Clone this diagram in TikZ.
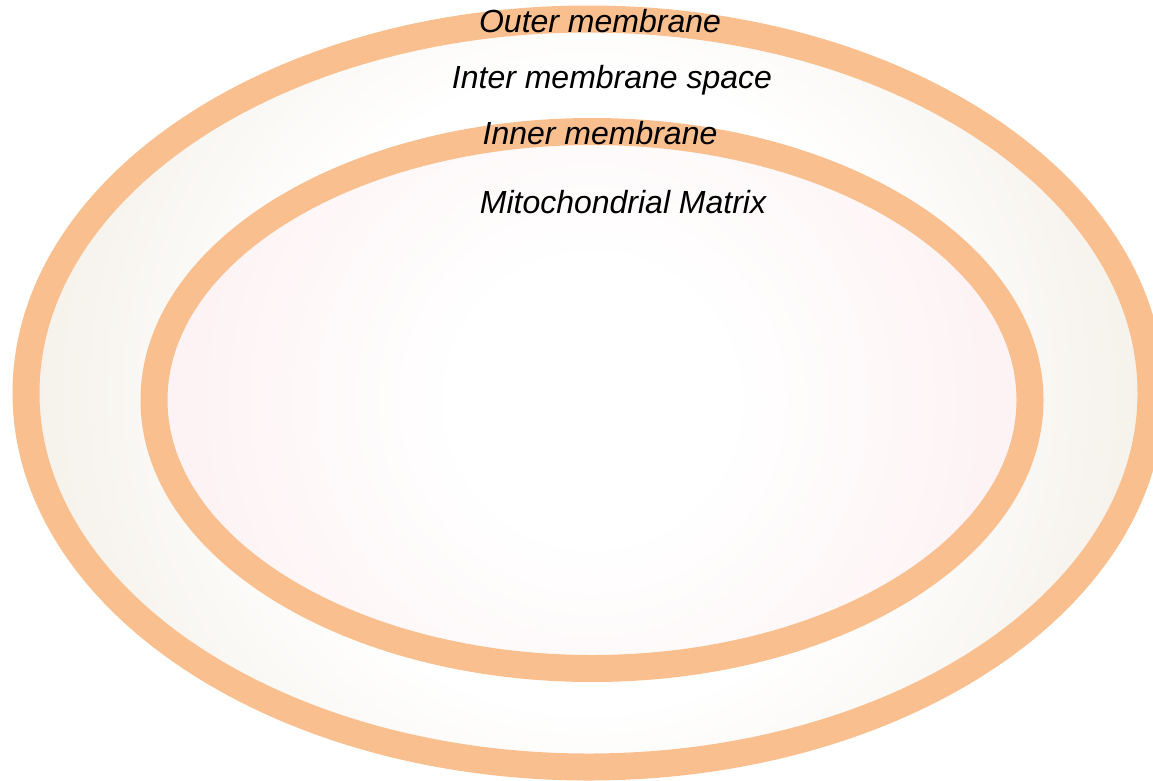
\documentclass[tikz,border=0pt]{standalone}
\usepackage{fontspec}
\setmainfont{Liberation Sans}
\definecolor{band}{HTML}{F9BF8E}
\definecolor{ims}{HTML}{F5F1EA}
\definecolor{mat}{HTML}{FDF1F3}
\pgfdeclareradialshading{imsshade}{\pgfpoint{0bp}{0bp}}{color(0bp)=(white); color(14bp)=(white); color(25bp)=(ims); color(50bp)=(ims)}
\pgfdeclareradialshading{matshade}{\pgfpoint{0bp}{0bp}}{color(0bp)=(white); color(8bp)=(white); color(25bp)=(mat); color(50bp)=(mat)}
\begin{document}
\begin{tikzpicture}[x=1pt,y=-1pt,
  membrane/.style={draw=band,line width=27pt},
  lbl/.style={anchor=base,inner sep=0pt,font=\fontsize{32}{38}\selectfont\itshape}]
\useasboundingbox (0,0) rectangle (1153,780);
\begin{scope}
  \clip (588.5,393) ellipse [x radius=562.5,y radius=374];
  \shade[shading=imsshade] (588.5,393) circle [radius=562.5];
\end{scope}
\draw[membrane] (588.5,393) ellipse [x radius=562.5,y radius=374];
\begin{scope}
  \clip (592,400) ellipse [x radius=438,y radius=268.5];
  \shade[shading=matshade] (592,400) circle [radius=438];
\end{scope}
\draw[membrane] (592,400) ellipse [x radius=438,y radius=268.5];
\node[lbl] (outer) at (600,32) {Outer membrane};
\node[lbl] (ims) at (612,88) {Inter membrane space};
\node[lbl] (inner) at (600,144) {Inner membrane};
\node[lbl] (matrix) at (623,213) {Mitochondrial Matrix};
\end{tikzpicture}
\end{document}
